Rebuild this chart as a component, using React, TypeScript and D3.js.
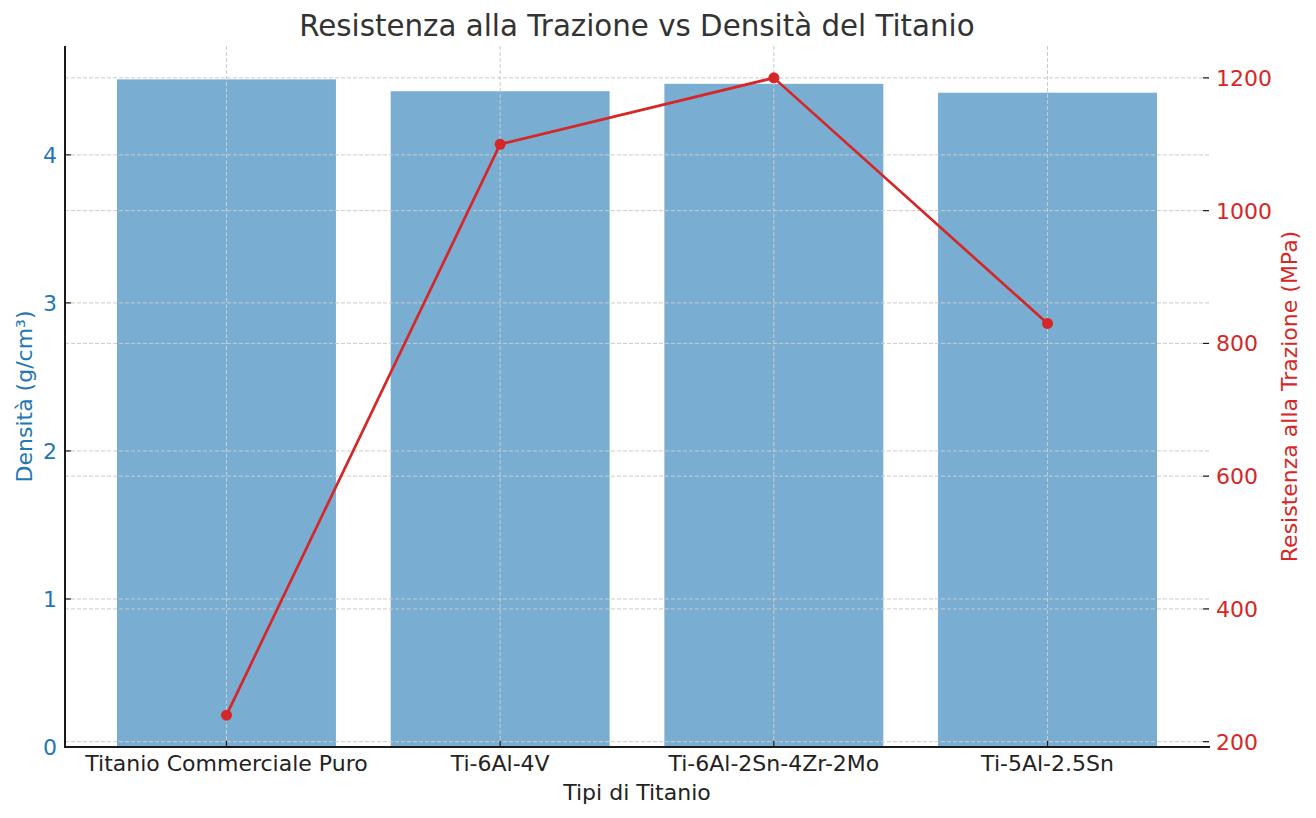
import React from 'react';
import * as d3 from 'd3';

const categories = ['Titanio Commerciale Puro', 'Ti-6Al-4V', 'Ti-6Al-2Sn-4Zr-2Mo', 'Ti-5Al-2.5Sn'];
const density = [4.51, 4.43, 4.48, 4.42];
const strength = [240, 1100, 1200, 830];
const densityTicks = [0, 1, 2, 3, 4];
const strengthTicks = [200, 400, 600, 800, 1000, 1200];

const W = 1316;
const H = 818;
const margin = { top: 46, right: 107, bottom: 71, left: 65 };
const BLUE = '#1f77b4';
const RED = '#d62728';
const FONT = 'DejaVu Sans, sans-serif';

const App: React.FC = () => {
    const x0 = margin.left;
    const x1 = W - margin.right;
    const y0 = H - margin.bottom;
    const y1 = margin.top;

    // categorical axis as matplotlib does it: bars at integer positions, 5% margins
    const idx = categories.map((_, i) => i);
    const x = d3.scaleLinear().domain([-0.59, categories.length - 1 + 0.59]).range([x0, x1]);
    const barW = x(0.4) - x(-0.4);

    const dMax = d3.max(density) as number;
    const yL = d3.scaleLinear().domain([0, dMax * 1.05]).range([y0, y1]);

    const sMin = d3.min(strength) as number;
    const sMax = d3.max(strength) as number;
    const pad = (sMax - sMin) * 0.05;
    const yR = d3.scaleLinear().domain([sMin - pad, sMax + pad]).range([y0, y1]);

    const line = d3.line<number>()
        .x((_, i) => x(i))
        .y(d => yR(d));

    const grid = { stroke: '#cccccc', strokeWidth: 1, strokeDasharray: '4,2' };

    return (
        <div style={{ position: 'absolute', left: 0, top: 0 }}>
            <svg width={W} height={H} style={{ display: 'block', background: '#fff' }} fontFamily={FONT}>
                {/* bars */}
                {density.map((d, i) => (
                    <rect key={categories[i]} x={x(i) - barW / 2} y={yL(d)} width={barW} height={y0 - yL(d)}
                        fill={BLUE} fillOpacity={0.6} />
                ))}

                {/* grids */}
                {idx.map(i => (
                    <line key={'vg' + i} x1={x(i)} x2={x(i)} y1={y1} y2={y0} {...grid} />
                ))}
                {densityTicks.map(t => (
                    <line key={'lg' + t} x1={x0} x2={x1} y1={yL(t)} y2={yL(t)} {...grid} />
                ))}
                {strengthTicks.map(t => (
                    <line key={'rg' + t} x1={x0} x2={x1} y1={yR(t)} y2={yR(t)} {...grid} />
                ))}

                {/* line series */}
                <path d={line(strength) as string} fill="none" stroke={RED} strokeWidth={2.7} />
                {strength.map((s, i) => (
                    <circle key={'pt' + i} cx={x(i)} cy={yR(s)} r={5.5} fill={RED} />
                ))}

                {/* spines */}
                <line x1={x0} x2={x0} y1={y1} y2={y0 + 1} stroke="#1a1a1a" strokeWidth={2} />
                <line x1={x0 - 1} x2={x1 + 1} y1={y0} y2={y0} stroke="#1a1a1a" strokeWidth={2} />

                {/* left ticks */}
                {densityTicks.map(t => (
                    <g key={'lt' + t} transform={`translate(0,${yL(t)})`}>
                        <line x1={x0} x2={x0 + 6} stroke="#1a1a1a" strokeWidth={1.2} />
                        <text x={x0 - 8} dy="0.36em" textAnchor="end" fontSize={22} fill={BLUE}>{t}</text>
                    </g>
                ))}

                {/* right ticks */}
                {strengthTicks.map(t => (
                    <g key={'rt' + t} transform={`translate(0,${yR(t)})`}>
                        <line x1={x1 - 6} x2={x1} stroke="#1a1a1a" strokeWidth={1.2} />
                        <text x={x1 + 7} dy="0.36em" textAnchor="start" fontSize={22} fill={RED}>{t}</text>
                    </g>
                ))}

                {/* bottom ticks */}
                {idx.map(i => (
                    <g key={'bt' + i} transform={`translate(${x(i)},0)`}>
                        <line y1={y0 - 6} y2={y0} stroke="#1a1a1a" strokeWidth={1.2} />
                        <text y={y0 + 24} textAnchor="middle" fontSize={22} fill="#222">{categories[i]}</text>
                    </g>
                ))}

                {/* labels */}
                <text x={(x0 + x1) / 2} y={36} textAnchor="middle" fontSize={29.3} fill="#333">
                    Resistenza alla Trazione vs Densità del Titanio
                </text>
                <text x={(x0 + x1) / 2} y={800} textAnchor="middle" fontSize={22} fill="#222">Tipi di Titanio</text>
                <text transform={`translate(32,${(y0 + y1) / 2}) rotate(-90)`} textAnchor="middle" fontSize={22} fill={BLUE}>
                    Densità (g/cm³)
                </text>
                <text transform={`translate(1297,${(y0 + y1) / 2}) rotate(-90)`} textAnchor="middle" fontSize={22} fill={RED}>
                    Resistenza alla Trazione (MPa)
                </text>
            </svg>
        </div>
    );
};

export default App;
